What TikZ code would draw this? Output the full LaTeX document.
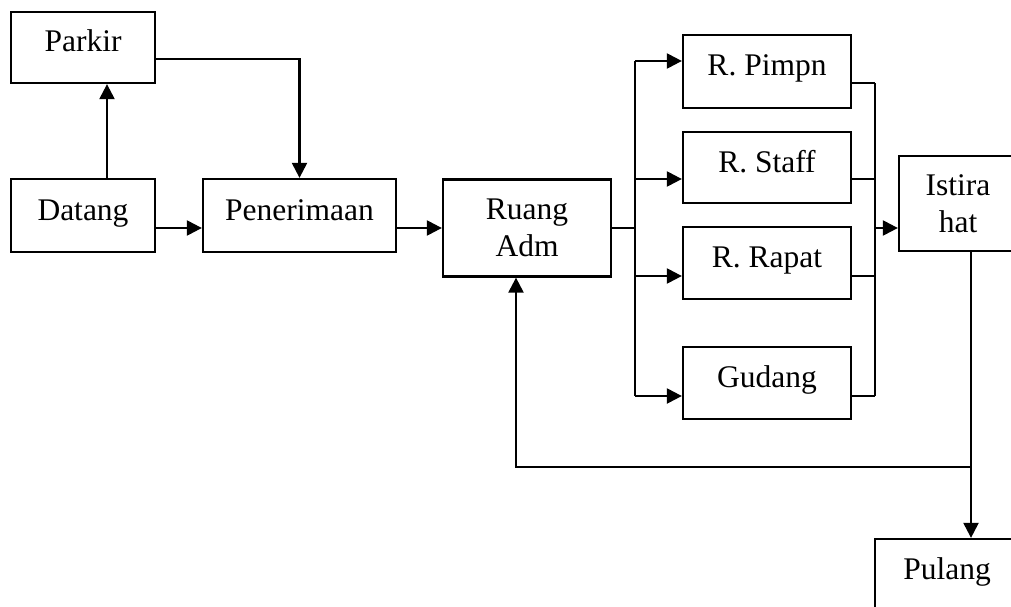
\documentclass[tikz,border=0pt]{standalone}
\usepackage{fontspec}
\setmainfont{Liberation Serif}
\usetikzlibrary{arrows.meta}
\tikzset{
  kotak/.style={draw, line width=2.3pt, font=\fontsize{31.5}{37}\selectfont,
    text height=22pt, text depth=13pt, inner sep=0pt},
  kotakdua/.style={draw, line width=2.3pt, font=\fontsize{31.5}{37}\selectfont,
    align=center, inner sep=0pt},
  panah/.style={line width=2.3pt, -{Triangle[length=15pt,width=15pt]}},
  garis/.style={line width=2.3pt}
}

\begin{document}
\begin{tikzpicture}[x=1pt,y=-1pt]
    \useasboundingbox (0,0) rectangle (1011,607);
    \clip (0,0) rectangle (1011,607);

    \node [kotak, minimum width=144pt, minimum height=71pt] (parkir) at (83,47.5) {Parkir};
    \node [kotak, minimum width=144pt, minimum height=73pt] (datang) at (83,215.5) {Datang};
    \node [kotak, minimum width=193pt, minimum height=73pt] (penerimaan) at (299.5,215.5) {Penerimaan};
    \node [kotakdua, minimum width=168pt, minimum height=97pt] (ruang) at (527,228) {Ruang\\Adm};
    \node [kotak, minimum width=168pt, minimum height=73pt] (pimpn) at (767,71.5) {R. Pimpn};
    \node [kotak, minimum width=168pt, minimum height=71pt] (staff) at (767,167.5) {R. Staff};
    \node [kotak, minimum width=168pt, minimum height=72pt] (rapat) at (767,263) {R. Rapat};
    \node [kotak, minimum width=168pt, minimum height=72pt] (gudang) at (767,383) {Gudang};
    \node [kotakdua, minimum width=118pt, minimum height=95pt] (istirahat) at (958,203.5) {Istira\\hat};
    \node [kotak, minimum width=144pt, minimum height=72pt] (pulang) at (947,575) {Pulang};

    \coordinate (cabang) at (635,228);
    \coordinate (gabung) at (875,228);
    \coordinate (balik) at (971,467);

    % masuk
    \draw [panah] ([xshift=24pt]datang.north) -- ([xshift=24pt]datang.north |- parkir.south);
    \draw [panah] ([yshift=-11.5pt]parkir.east) -| (penerimaan.north);
    \draw [panah] ([yshift=-12.5pt]datang.east) -- ([yshift=-12.5pt]penerimaan.west);
    \draw [panah] ([yshift=-12.5pt]penerimaan.east) -- (ruang.west);
    \draw [garis] (ruang.east) -- (cabang);

    % ke ruangan
    \foreach \r/\dy in {pimpn/10.5, staff/-11.5, rapat/-13, gudang/-13} {
        \coordinate (in-\r) at ([yshift=\dy pt]\r.west -| cabang);
        \draw [panah] (in-\r) -- ([yshift=\dy pt]\r.west);
    }
    \draw [garis] (in-pimpn) -- (in-gudang);

    \foreach \r/\dy in {pimpn/-11.5, staff/-11.5, rapat/-13, gudang/-13} {
        \coordinate (out-\r) at ([yshift=\dy pt]\r.east -| gabung);
        \draw [garis] ([yshift=\dy pt]\r.east) -- (out-\r);
    }
    \draw [garis] (out-pimpn) -- (out-gudang);
    \draw [panah] (gabung) -- (istirahat.west |- gabung);

    % keluar
    \draw [garis] ([xshift=13pt]istirahat.south) -- (balik);
    \draw [panah] (balik) -- (pulang.north -| balik);
    \draw [panah] (balik) -| ([xshift=-11pt]ruang.south);
\end{tikzpicture}
\end{document}
